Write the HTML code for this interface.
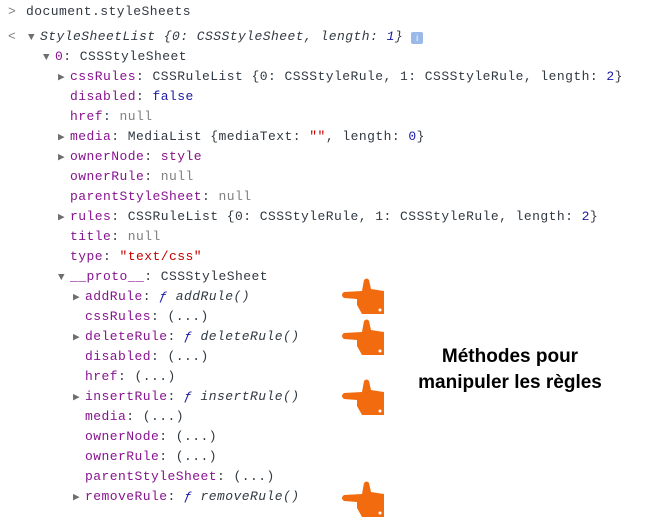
<!DOCTYPE html>
<html><head><meta charset="utf-8"><style>
body{margin:0;width:652px;height:520px;background:#fff;position:relative;overflow:hidden;font-family:"Liberation Mono",monospace;font-size:13px;letter-spacing:0.45px;color:#303942}
.l{position:absolute;white-space:pre;line-height:20px;height:20px}
.k{color:#881391}.n{color:#1a1aa6}.s{color:#c80000}.g{color:#808080}
.t{color:#6e6e6e;font-size:11px;display:inline-block;width:12px;letter-spacing:0}
i{font-style:italic}
.h{position:absolute}
.m{position:absolute;left:393px;top:344px;width:234px;text-align:center;font-family:"Liberation Sans",sans-serif;font-weight:bold;font-size:19px;line-height:26px;color:#000;letter-spacing:0}
</style></head><body>
<div class="l" style="left:8px;top:2px"><span class="g">&gt;</span> <span style="position:absolute;left:18px">document.styleSheets</span></div>
<div class="l" style="left:8px;top:27px"><span class="g">&lt;</span></div>
<div class="l" style="left:28px;top:27px"><span class="t">▼</span><i>StyleSheetList {0: CSSStyleSheet, length: <span class="n">1</span>}</i> <span style="display:inline-block;width:12px;height:12px;background:#9ab8e8;border-radius:2px;color:#fff;font-size:9px;text-align:center;line-height:12px;vertical-align:-1px;font-family:'Liberation Sans'">i</span></div>
<div class="l" style="left:43px;top:47px"><span class="t">▼</span><span class="k">0</span>: CSSStyleSheet</div>
<div class="l" style="left:58px;top:67px"><span class="t">▶</span><span class="k">cssRules</span>: CSSRuleList {0: CSSStyleRule, 1: CSSStyleRule, length: <span class="n">2</span>}</div>
<div class="l" style="left:70px;top:87px"><span class="k">disabled</span>: <span class="n">false</span></div>
<div class="l" style="left:70px;top:107px"><span class="k">href</span>: <span class="g">null</span></div>
<div class="l" style="left:58px;top:127px"><span class="t">▶</span><span class="k">media</span>: MediaList {mediaText: <span class="s">""</span>, length: <span class="n">0</span>}</div>
<div class="l" style="left:58px;top:147px"><span class="t">▶</span><span class="k">ownerNode</span>: <span style="color:#881280">style</span></div>
<div class="l" style="left:70px;top:167px"><span class="k">ownerRule</span>: <span class="g">null</span></div>
<div class="l" style="left:70px;top:187px"><span class="k">parentStyleSheet</span>: <span class="g">null</span></div>
<div class="l" style="left:58px;top:207px"><span class="t">▶</span><span class="k">rules</span>: CSSRuleList {0: CSSStyleRule, 1: CSSStyleRule, length: <span class="n">2</span>}</div>
<div class="l" style="left:70px;top:227px"><span class="k">title</span>: <span class="g">null</span></div>
<div class="l" style="left:70px;top:247px"><span class="k">type</span>: <span class="s">"text/css"</span></div>
<div class="l" style="left:58px;top:267px"><span class="t">▼</span><span class="k">__proto__</span>: CSSStyleSheet</div>
<div class="l" style="left:73px;top:287px"><span class="t">▶</span><span class="k">addRule</span>: <i><span class="n">ƒ</span> addRule()</i></div>
<div class="l" style="left:85px;top:307px"><span class="k">cssRules</span>: (...)</div>
<div class="l" style="left:73px;top:327px"><span class="t">▶</span><span class="k">deleteRule</span>: <i><span class="n">ƒ</span> deleteRule()</i></div>
<div class="l" style="left:85px;top:347px"><span class="k">disabled</span>: (...)</div>
<div class="l" style="left:85px;top:367px"><span class="k">href</span>: (...)</div>
<div class="l" style="left:73px;top:387px"><span class="t">▶</span><span class="k">insertRule</span>: <i><span class="n">ƒ</span> insertRule()</i></div>
<div class="l" style="left:85px;top:407px"><span class="k">media</span>: (...)</div>
<div class="l" style="left:85px;top:427px"><span class="k">ownerNode</span>: (...)</div>
<div class="l" style="left:85px;top:447px"><span class="k">ownerRule</span>: (...)</div>
<div class="l" style="left:85px;top:467px"><span class="k">parentStyleSheet</span>: (...)</div>
<div class="l" style="left:73px;top:487px"><span class="t">▶</span><span class="k">removeRule</span>: <i><span class="n">ƒ</span> removeRule()</i></div>
<svg class="h" width="652" height="520" style="left:0;top:0">
<defs><g id="hd" fill="#f26b0f">
<path d="M22 14 L24 3 Q27 0 29 3 L31 12 L44 14 L44 37 L22 37 L17 28 L17 22 L4 21 Q0 18 4 15 Z"/>
<circle cx="40" cy="33" r="1.5" fill="#fff"/>
</g></defs>
<use href="#hd" x="340" y="277"/>
<use href="#hd" x="340" y="318"/>
<use href="#hd" x="340" y="378"/>
<use href="#hd" x="340" y="480"/>
</svg>
<div class="m">Méthodes pour<br>manipuler les règles</div>
</body></html>
